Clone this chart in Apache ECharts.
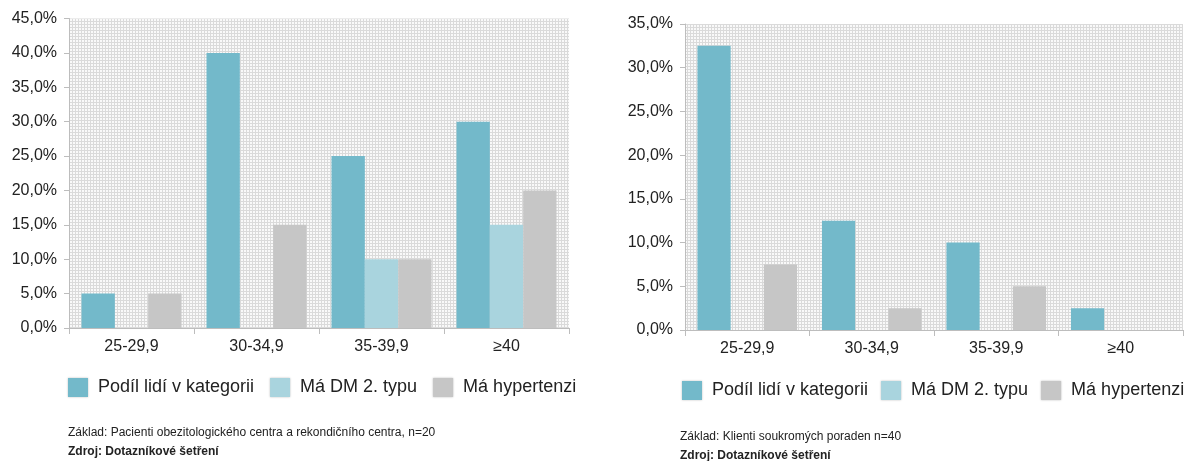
<!DOCTYPE html>
<html>
<head>
<meta charset="utf-8">
<script src="https://cdn.jsdelivr.net/npm/echarts@6/dist/echarts.min.js"></script>
<style>
  html, body { margin: 0; padding: 0; background: #ffffff; }
  #chart { width: 1184px; height: 461px; }
</style>
</head>
<body>
<div id="chart"></div>
<script>
// BMI categories shared by both panels
const categories = ['25-29,9', '30-34,9', '35-39,9', '≥40'];
const seriesNames = ['Podíl lidí v kategorii', 'Má DM 2. typu', 'Má hypertenzi'];

// Panel A: obesity centre patients (n=20), percent
const centreShare = [5, 40, 25, 30];
const centreDiabetes = [0, 0, 10, 15];
const centreHypertension = [5, 15, 10, 20];

// Panel B: private counselling clients (n=40), percent
const clientShare = [32.5, 12.5, 10, 2.5];
const clientDiabetes = [0, 0, 0, 0];
const clientHypertension = [7.5, 2.5, 5, 0];

const footBaseA = 'Základ: Pacienti obezitologického centra a rekondičního centra, n=20';
const footBaseB = 'Základ: Klienti soukromých poraden n=40';
const footSource = 'Zdroj: Dotazníkové šetření';

const colors = ['#73b9ca', '#a9d4de', '#c6c6c6'];
const FONT = '"Liberation Sans", Arial, sans-serif';

// fine checkered fill for the plot areas
function gridPattern() {
  const c = document.createElement('canvas');
  c.width = 3; c.height = 3;
  const g = c.getContext('2d');
  g.fillStyle = '#f9f9f9';
  g.fillRect(0, 0, 3, 3);
  g.fillStyle = '#dadada';
  g.fillRect(0, 0, 3, 1);
  g.fillRect(0, 0, 1, 3);
  return { image: c, repeat: 'repeat' };
}

const pct = v => v.toFixed(1).replace('.', ',') + '%';

function xAxisFor(gridIndex) {
  return {
    type: 'category', gridIndex, data: categories,
    axisLine: { lineStyle: { color: '#bdbdbd', width: 1 } },
    axisTick: { show: true, length: 6, lineStyle: { color: '#bdbdbd' } },
    axisLabel: { color: '#222', fontSize: 16, fontFamily: FONT, margin: 11 },
    splitLine: { show: false }
  };
}
function yAxisFor(gridIndex, max) {
  return {
    type: 'value', gridIndex, min: 0, max, interval: 5,
    axisLine: { show: true, lineStyle: { color: '#bdbdbd', width: 1 } },
    axisTick: { show: true, length: 5, lineStyle: { color: '#bdbdbd' } },
    axisLabel: { color: '#222', fontSize: 16, fontFamily: FONT, margin: 12, formatter: pct },
    splitLine: { show: false }
  };
}
function bar(name, data, idx, axisIdx) {
  return {
    type: 'bar', name, data, xAxisIndex: axisIdx, yAxisIndex: axisIdx,
    barGap: 0, barCategoryGap: '20%',
    itemStyle: { color: colors[idx] },
    emphasis: { disabled: true }
  };
}
function legendAt(left, top, gap) {
  return {
    left, top, width: 560, padding: 0,
    itemWidth: 20, itemHeight: 19, itemGap: gap, icon: 'rect',
    data: seriesNames,
    textStyle: { fontSize: 18, color: '#222', fontFamily: FONT, padding: [0, 0, 0, 5] },
    itemStyle: { shadowBlur: 2, shadowColor: 'rgba(0,0,0,0.25)' }
  };
}
function foot(text, left, top, bold) {
  return {
    type: 'text', left, top,
    style: { text, fontSize: 12, fontFamily: FONT, fill: '#222', fontWeight: bold ? 'bold' : 'normal' }
  };
}

const chart = echarts.init(document.getElementById('chart'), null, { renderer: 'canvas' });
const pattern = gridPattern();
chart.setOption({
  animation: false,
  backgroundColor: '#ffffff',
  grid: [
    { left: 69, top: 18.5, width: 500, height: 309.5, show: true, backgroundColor: pattern, borderWidth: 0 },
    { left: 685, top: 24, width: 498, height: 306, show: true, backgroundColor: pattern, borderWidth: 0 }
  ],
  xAxis: [xAxisFor(0), xAxisFor(1)],
  yAxis: [yAxisFor(0, 45), yAxisFor(1, 35)],
  legend: [legendAt(68, 378, 16), legendAt(682, 381, 13)],
  series: [
    bar(seriesNames[0], centreShare, 0, 0),
    bar(seriesNames[1], centreDiabetes, 1, 0),
    bar(seriesNames[2], centreHypertension, 2, 0),
    bar(seriesNames[0], clientShare, 0, 1),
    bar(seriesNames[1], clientDiabetes, 1, 1),
    bar(seriesNames[2], clientHypertension, 2, 1)
  ],
  graphic: [
    foot(footBaseA, 68, 427, false),
    foot(footSource, 68, 446, true),
    foot(footBaseB, 680, 431, false),
    foot(footSource, 680, 450, true)
  ]
});
</script>
</body>
</html>
